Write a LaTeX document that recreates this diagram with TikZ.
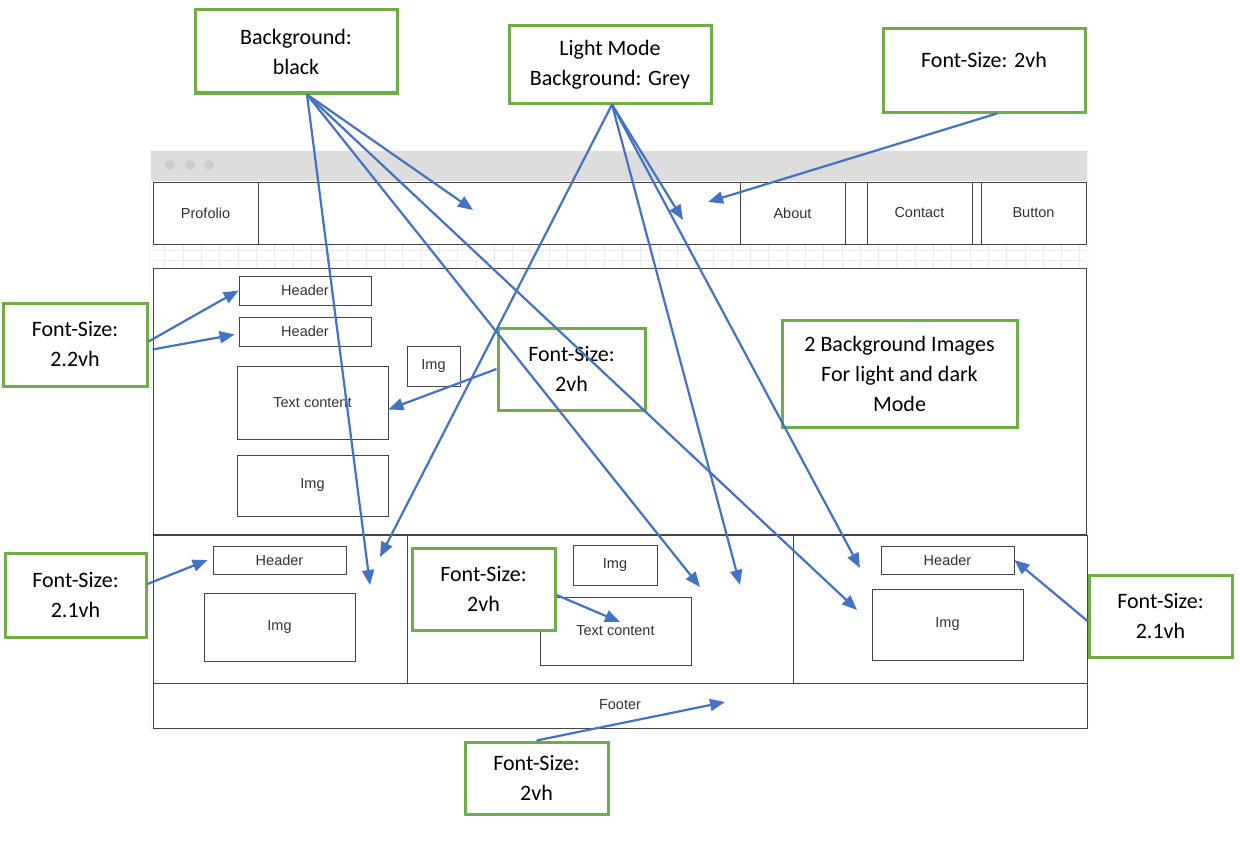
\documentclass[tikz,border=0pt]{standalone}
\usepackage{fontspec}
\setmainfont{Carlito}
\newfontfamily\wffont{Liberation Sans}
\usetikzlibrary{arrows.meta}
\definecolor{notegreen}{HTML}{70AD47}
\definecolor{arrblue}{HTML}{4472C4}
\definecolor{wfline}{HTML}{444444}
\definecolor{wftext}{HTML}{333333}

\begin{document}
\begin{tikzpicture}[x=1pt, y=-1pt,
        wf/.style={rectangle, draw=wfline, line width=0.8pt, fill=white, inner sep=0pt,
                   font=\wffont\fontsize{14.5}{16}\selectfont, text=wftext},
        note/.style={rectangle, draw=notegreen, line width=3pt, fill=white, inner sep=0pt,
                     align=center, font=\fontsize{22}{30}\selectfont},
        arr/.style={-{Triangle[length=15pt,width=12pt]}, line width=2.2pt, arrblue},
        panel/.style={draw=wfline, line width=0.9pt}]
      \useasboundingbox (0,0) rectangle (1240,851);

      % browser window
      \draw[gray!30, fill=white, rounded corners=3pt] (150,150) rectangle (1088,730);
      \fill[gray!27] (151,151) rectangle (1087,181);
      \foreach \dx in {170,190,209}
        \fill[gray!40] (\dx,165) circle (5pt);
      \draw[gray!15, line width=0.5pt, xstep=18.3pt, ystep=10pt] (153,244) grid (1086,268);

      % panels
      \draw[panel] (153,182) rectangle (1086,244);
      \draw[panel] (153,268) rectangle (1086,534);
      \draw[panel] (153,535) rectangle (1087,683);
      \draw[wfline, line width=1.6pt] (153,535) -- (1087,535);
      \draw[panel] (407,535) -- (407,683);
      \draw[panel] (793,535) -- (793,683);
      \draw[panel] (153,683) rectangle (1087,728);

      % nav
      \node[wf, minimum width=105, minimum height=62] (profolio) at (205.5,213) {Profolio};
      \node[wf, minimum width=105, minimum height=62] (about) at (792.5,213) {About};
      \node[wf, minimum width=105, minimum height=62] (contact) at (919.5,213) {Contact};
      \node[wf, minimum width=105, minimum height=62] (button) at (1033.5,213) {Button};

      % hero
      \node[wf, minimum width=132, minimum height=29] (headA) at (305,290.5) {Header};
      \node[wf, minimum width=132, minimum height=29] (headA2) at (305,331.5) {Header};
      \node[wf, minimum width=53, minimum height=40] (imgAs) at (433.5,366) {Img};
      \node[wf, minimum width=151, minimum height=73] (textA) at (312.5,402.5) {Text content};
      \node[wf, minimum width=151, minimum height=61] (imgA) at (312.5,485.5) {Img};

      % columns
      \node[wf, minimum width=133, minimum height=28] (headB) at (279.5,560) {Header};
      \node[wf, minimum width=151, minimum height=68] (imgB) at (279.5,627) {Img};
      \node[wf, minimum width=84, minimum height=40] (imgC) at (615,565) {Img};
      \node[wf, minimum width=151, minimum height=68] (textC) at (615.5,631) {Text content};
      \node[wf, minimum width=133, minimum height=28] (headD) at (947.5,560) {Header};
      \node[wf, minimum width=151, minimum height=71] (imgD) at (947.5,624.5) {Img};

      % footer
      \node[wf, draw=none, fill=none] (footer) at (620,705) {Footer};

      % notes
      \node[note, minimum width=202, minimum height=83] (bgblack) at (296,51.5) {Background:\\black};
      \node[note, minimum width=202, minimum height=77] (lightmode) at (610,64.5) {Light Mode\\Background: Grey};
      \node[note, minimum width=202, minimum height=83, text height=15pt, text depth=20pt] (fstop) at (984,70.5) {Font-Size: 2vh};
      \node[note, minimum width=144, minimum height=83] (fs22) at (75,344.5) {Font-Size:\\2.2vh};
      \node[note, minimum width=147, minimum height=82] (fshero) at (571.5,369) {Font-Size:\\2vh};
      \node[note, minimum width=235, minimum height=107] (bgimages) at (899.5,373.5) {2 Background Images\\For light and dark\\Mode};
      \node[note, minimum width=141, minimum height=84] (fs21l) at (75.5,595) {Font-Size:\\2.1vh};
      \node[note, minimum width=143, minimum height=82] (fscol2) at (483.5,589) {Font-Size:\\2vh};
      \node[note, minimum width=143, minimum height=82] (fs21r) at (1160.5,616) {Font-Size:\\2.1vh};
      \node[note, minimum width=143, minimum height=72] (fsfoot) at (536.5,778) {Font-Size:\\2vh};

      % free arrow ends
      \coordinate (navA) at (473,210);
      \coordinate (colB) at (370,585);
      \coordinate (colC) at (700,587);
      \coordinate (colD) at (857,610);
      \coordinate (navB) at (683,220);
      \coordinate (colB2) at (380,557);
      \coordinate (colC2) at (740,585);
      \coordinate (colD2) at (860,568);
      \coordinate (navC) at (708,202);
      \coordinate (textCin) at (620,622);
      \coordinate (footin) at (725,702);

      % arrows
      \foreach \t in {navA,colB,colC,colD}
        \draw[arr] ([xshift=11pt]bgblack.south) -- (\t);
      \foreach \t in {navB,colB2,colC2,colD2}
        \draw[arr] ([xshift=2pt]lightmode.south) -- (\t);
      \draw[arr] ([xshift=13pt]fstop.south) -- (navC);
      \draw[arr] ([yshift=3pt]fs22.east) -- (headA.west);
      \draw[arr] ([xshift=4pt,yshift=-5pt]fs22.east) -- ([xshift=-4pt,yshift=-3pt]headA2.west);
      \draw[arr] (fshero.west) -- ([yshift=-7pt]textA.east);
      \draw[arr] ([yshift=11pt]fs21l.east) -- ([xshift=-5pt]headB.west);
      \draw[arr] ([yshift=-6pt]fscol2.east) -- (textCin);
      \draw[arr] ([yshift=-5pt]fs21r.west) -- (headD.east);
      \draw[arr] (fsfoot.north) -- (footin);
    \end{tikzpicture}
\end{document}
